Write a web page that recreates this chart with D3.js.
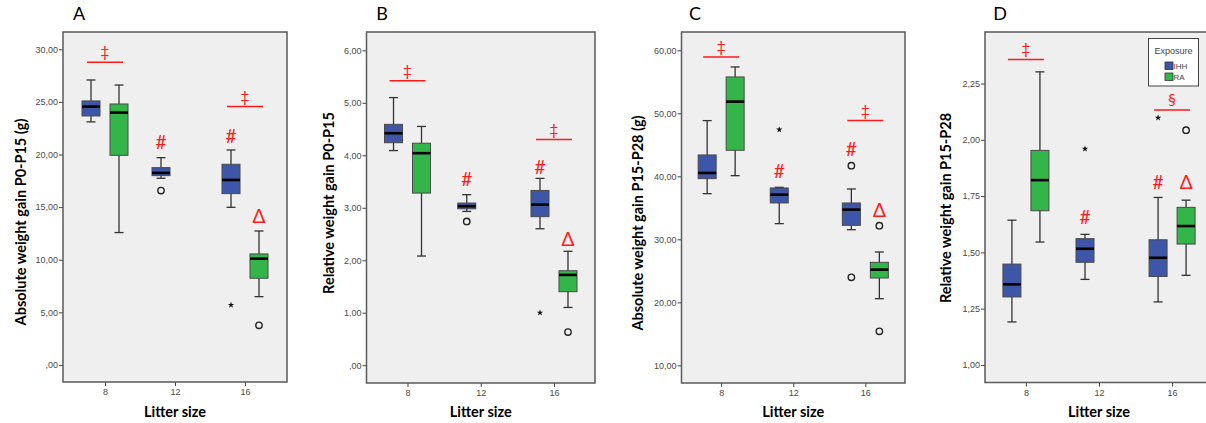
<!DOCTYPE html>
<html>
<head>
<meta charset="utf-8">
<script src="https://d3js.org/d3.v7.min.js"></script>
<style>
  body { margin: 0; background: #fff; }
  svg { display: block; }
</style>
</head>
<body>
<svg id="chart" width="1206" height="423"></svg>
<script>
'use strict';

var litters = ["8", "12", "16"];
var groups = ["IHH", "RA"];
var colors = { IHH: "#3d56a8", RA: "#33b54a" };

// box stats per litter: [low whisker, Q1, median, Q3, high whisker]
var ihhA = [[23.1, 23.66, 24.55, 25.09, 27.08], [17.74, 17.99, 18.25, 18.75, 19.7], [14.98, 16.28, 17.58, 19.07, 20.43]];
var raA = [[12.58, 19.92, 23.98, 24.8, 26.6], null, [6.49, 8.24, 10.1, 10.55, 12.73]];
var ihhB = [[4.09, 4.24, 4.42, 4.59, 5.10], [2.93, 2.98, 3.03, 3.09, 3.25], [2.60, 2.83, 3.06, 3.33, 3.56]];
var raB = [[2.08, 3.28, 4.04, 4.23, 4.55], null, [1.10, 1.40, 1.72, 1.80, 2.17]];
var ihhC = [[37.25, 39.63, 40.53, 43.39, 48.84], [32.49, 35.77, 37.09, 38.15, 38.25], [31.53, 32.22, 34.71, 35.77, 37.99]];
var raC = [[40.1, 44.13, 51.85, 55.77, 57.35], null, [20.58, 23.86, 25.19, 26.35, 27.99]];
var ihhD = [[1.191, 1.302, 1.358, 1.448, 1.643], [1.38, 1.456, 1.516, 1.561, 1.58], [1.28, 1.393, 1.476, 1.556, 1.744]];
var raD = [[1.546, 1.685, 1.821, 1.953, 2.302], null, [1.398, 1.537, 1.617, 1.70, 1.732]];

// outliers: [litter, group, value, kind]  ("o" = circle, "*" = extreme)
var outA = [["12", "IHH", 16.57, "o"], ["16", "IHH", 5.7, "*"], ["16", "RA", 3.77, "o"]];
var outB = [["12", "IHH", 2.74, "o"], ["16", "IHH", 1.0, "*"], ["16", "RA", 0.63, "o"]];
var outC = [["12", "IHH", 47.4, "*"], ["16", "IHH", 41.69, "o"], ["16", "IHH", 23.97, "o"], ["16", "RA", 32.17, "o"], ["16", "RA", 15.4, "o"]];
var outD = [["12", "IHH", 1.96, "*"], ["16", "IHH", 2.098, "*"], ["16", "RA", 2.043, "o"]];

// significance bars over both groups: [litter, value, symbol]
var sigA = [["8", 28.76, "\u2021"], ["16", 24.55, "\u2021"]];
var sigB = [["8", 5.42, "\u2021"], ["16", 4.30, "\u2021"]];
var sigC = [["8", 58.94, "\u2021"], ["16", 48.84, "\u2021"]];
var sigD = [["8", 2.357, "\u2021"], ["16", 2.133, "\u00a7"]];

// single-box markers: [litter, group, value, symbol]
var markA = [["12", "IHH", 21.2, "#"], ["16", "IHH", 21.85, "#"], ["16", "RA", 14.16, "\u0394"]];
var markB = [["12", "IHH", 3.55, "#"], ["16", "IHH", 3.79, "#"], ["16", "RA", 2.41, "\u0394"]];
var markC = [["12", "IHH", 40.95, "#"], ["16", "IHH", 44.4, "#"], ["16", "RA", 34.7, "\u0394"]];
var markD = [["12", "IHH", 1.661, "#"], ["16", "IHH", 1.814, "#"], ["16", "RA", 1.814, "\u0394"]];

var ticksA = [0, 5, 10, 15, 20, 25, 30];
var ticksB = [0, 1, 2, 3, 4, 5, 6];
var ticksC = [10, 20, 30, 40, 50, 60];
var ticksD = [1, 1.25, 1.5, 1.75, 2, 2.25];

var panels = [
  { letter: "A", ihh: ihhA, ra: raA, out: outA, sig: sigA, marks: markA, ticks: ticksA,
    label: "Absolute weight gain P0-P15 (g)",
    left: 63, right: 287, top: 32, bottom: 382, yDomain: [-1.62, 31.64], pad: 0.6,
    labelX: 20, labelY: 222, letterX: 79 },
  { letter: "B", ihh: ihhB, ra: raB, out: outB, sig: sigB, marks: markB, ticks: ticksB,
    label: "Relative weight gain P0-P15",
    left: 366.5, right: 595, top: 32, bottom: 383, yDomain: [-0.34, 6.35], pad: 0.56,
    labelX: 328, labelY: 203, letterX: 382 },
  { letter: "C", ihh: ihhC, ra: raC, out: outC, sig: sigC, marks: markC, ticks: ticksC,
    label: "Absolute weight gain P15-P28 (g)",
    left: 681.5, right: 905, top: 32, bottom: 383, yDomain: [7.2, 62.9], pad: 0.55,
    labelX: 637, labelY: 223, letterX: 695 },
  { letter: "D", ihh: ihhD, ra: raD, out: outD, sig: sigD, marks: markD, ticks: ticksD,
    label: "Relative weight gain P15-P28",
    left: 985, right: 1213, top: 32, bottom: 382.5, yDomain: [0.922, 2.479], pad: 0.56,
    labelX: 945, labelY: 208, letterX: 1000, legend: true }
];

var svg = d3.select("#chart");
var titleFont = "Lato, 'Open Sans', sans-serif";
var tickFont = "'Liberation Sans', Arial, sans-serif";

// SPSS style: 30,00 and ,00
var fmt = function(v) {
  var s = d3.format(".2f")(v).replace(".", ",");
  return s.indexOf("0,") === 0 ? s.slice(1) : s;
};

var off = d3.scalePoint().domain(groups).range([-14, 14]);

panels.forEach(function(p) {
  var g = svg.append("g");
  var x = d3.scalePoint().domain(litters).range([p.left, p.right]).padding(p.pad);
  var y = d3.scaleLinear().domain(p.yDomain).range([p.bottom, p.top]);

  g.append("rect")
    .attr("x", p.left).attr("y", p.top)
    .attr("width", p.right - p.left).attr("height", p.bottom - p.top)
    .attr("fill", "#efefef");

  var yAxis = g.append("g")
    .attr("transform", "translate(" + p.left + ",0)")
    .call(d3.axisLeft(y).tickValues(p.ticks).tickSize(4).tickPadding(1).tickFormat(fmt));
  var xAxis = g.append("g")
    .attr("transform", "translate(0," + p.bottom + ")")
    .call(d3.axisBottom(x).tickSize(4).tickPadding(3));
  [yAxis, xAxis].forEach(function(a) {
    a.select(".domain").remove();
    a.selectAll("line").attr("stroke", "#444");
    a.selectAll("text").attr("fill", "#4a4a4a")
      .style("font-family", tickFont).style("font-size", "9px");
  });

  var rows = [];
  litters.forEach(function(l, i) {
    if (p.ihh[i]) rows.push({ litter: l, group: "IHH", s: p.ihh[i] });
    if (p.ra[i]) rows.push({ litter: l, group: "RA", s: p.ra[i] });
  });

  var box = g.selectAll("g.box").data(rows).enter().append("g").attr("class", "box")
    .attr("transform", function(d) { return "translate(" + (x(d.litter) + off(d.group)) + ",0)"; });

  box.append("line")
    .attr("y1", function(d) { return y(d.s[0]); })
    .attr("y2", function(d) { return y(d.s[4]); })
    .attr("stroke", "#333").attr("stroke-width", 1.3);
  box.selectAll("line.cap").data(function(d) { return [d.s[0], d.s[4]]; })
    .enter().append("line").attr("class", "cap")
    .attr("x1", -4.5).attr("x2", 4.5)
    .attr("y1", function(v) { return y(v); }).attr("y2", function(v) { return y(v); })
    .attr("stroke", "#333").attr("stroke-width", 1.3);
  box.append("rect")
    .attr("x", -9).attr("width", 18)
    .attr("y", function(d) { return y(d.s[3]); })
    .attr("height", function(d) { return y(d.s[1]) - y(d.s[3]); })
    .attr("fill", function(d) { return colors[d.group]; })
    .attr("stroke", "#4a4a4a").attr("stroke-width", 1);
  box.append("line")
    .attr("x1", -9).attr("x2", 9)
    .attr("y1", function(d) { return y(d.s[2]); })
    .attr("y2", function(d) { return y(d.s[2]); })
    .attr("stroke", "#000").attr("stroke-width", 2.6);

  // outliers
  p.out.forEach(function(o) {
    var cx = x(o[0]) + off(o[1]), cy = y(o[2]);
    if (o[3] === "o") {
      g.append("circle").attr("cx", cx).attr("cy", cy).attr("r", 3.2)
        .attr("fill", "none").attr("stroke", "#222").attr("stroke-width", 1.4);
    } else {
      g.append("path").attr("d", d3.symbol(d3.symbolStar, 13)())
        .attr("transform", "translate(" + cx + "," + cy + ")")
        .attr("fill", "#111");
    }
  });

  // significance bars
  p.sig.forEach(function(s) {
    var x1 = x(s[0]) + off("IHH") - 4, x2 = x(s[0]) + off("RA") + 4;
    g.append("line").attr("x1", x1).attr("x2", x2)
      .attr("y1", y(s[1])).attr("y2", y(s[1]))
      .attr("stroke", "#ff1a1a").attr("stroke-width", 1.5);
    g.append("text").attr("x", (x1 + x2) / 2).attr("y", y(s[1]) - 5)
      .attr("text-anchor", "middle").attr("fill", "#ff1a1a")
      .style("font-family", titleFont).style("font-size", "16px")
      .text(s[2]);
  });

  p.marks.forEach(function(m) {
    g.append("text").attr("x", x(m[0]) + off(m[1])).attr("y", y(m[2]))
      .attr("text-anchor", "middle").attr("dominant-baseline", "central")
      .attr("fill", "#ff1a1a")
      .style("font-family", titleFont).style("font-size", "19px")
      .text(m[3]);
  });

  g.append("rect")
    .attr("x", p.left).attr("y", p.top)
    .attr("width", p.right - p.left).attr("height", p.bottom - p.top)
    .attr("fill", "none").attr("stroke", "#5a5a5a").attr("stroke-width", 1.5);

  g.append("text").attr("x", p.letterX).attr("y", 20)
    .attr("text-anchor", "middle")
    .style("font-family", titleFont).style("font-size", "18px")
    .text(p.letter);

  g.append("text")
    .attr("transform", "translate(" + p.labelX + "," + p.labelY + ") rotate(-90)")
    .attr("text-anchor", "middle").attr("dominant-baseline", "central")
    .style("font-family", titleFont).style("font-size", "14.5px").style("font-weight", "bold")
    .text(p.label);

  g.append("text").attr("x", x("12")).attr("y", 411)
    .attr("text-anchor", "middle").attr("dominant-baseline", "central")
    .style("font-family", titleFont).style("font-size", "14.5px").style("font-weight", "bold")
    .text("Litter size");

  if (p.legend) {
    var lg = g.append("g").attr("transform", "translate(1148.5,38.5)");
    lg.append("rect").attr("width", 50).attr("height", 47.5)
      .attr("fill", "#fff").attr("stroke", "#444").attr("stroke-width", 1);
    lg.append("text").attr("x", 25).attr("y", 12.5)
      .attr("text-anchor", "middle").attr("dominant-baseline", "central")
      .attr("fill", "#444")
      .style("font-family", tickFont).style("font-size", "9px")
      .text("Exposure");
    groups.forEach(function(k, i) {
      lg.append("rect").attr("x", 16.5).attr("y", 23.5 + i * 11)
        .attr("width", 8).attr("height", 7.5)
        .attr("fill", colors[k]).attr("stroke", "#333").attr("stroke-width", 0.8);
      lg.append("text").attr("x", 25).attr("y", 27.5 + i * 11)
        .attr("dominant-baseline", "central").attr("fill", "#444")
        .style("font-family", tickFont).style("font-size", "8px")
        .text(k);
    });
  }
});
</script>
</body>
</html>
